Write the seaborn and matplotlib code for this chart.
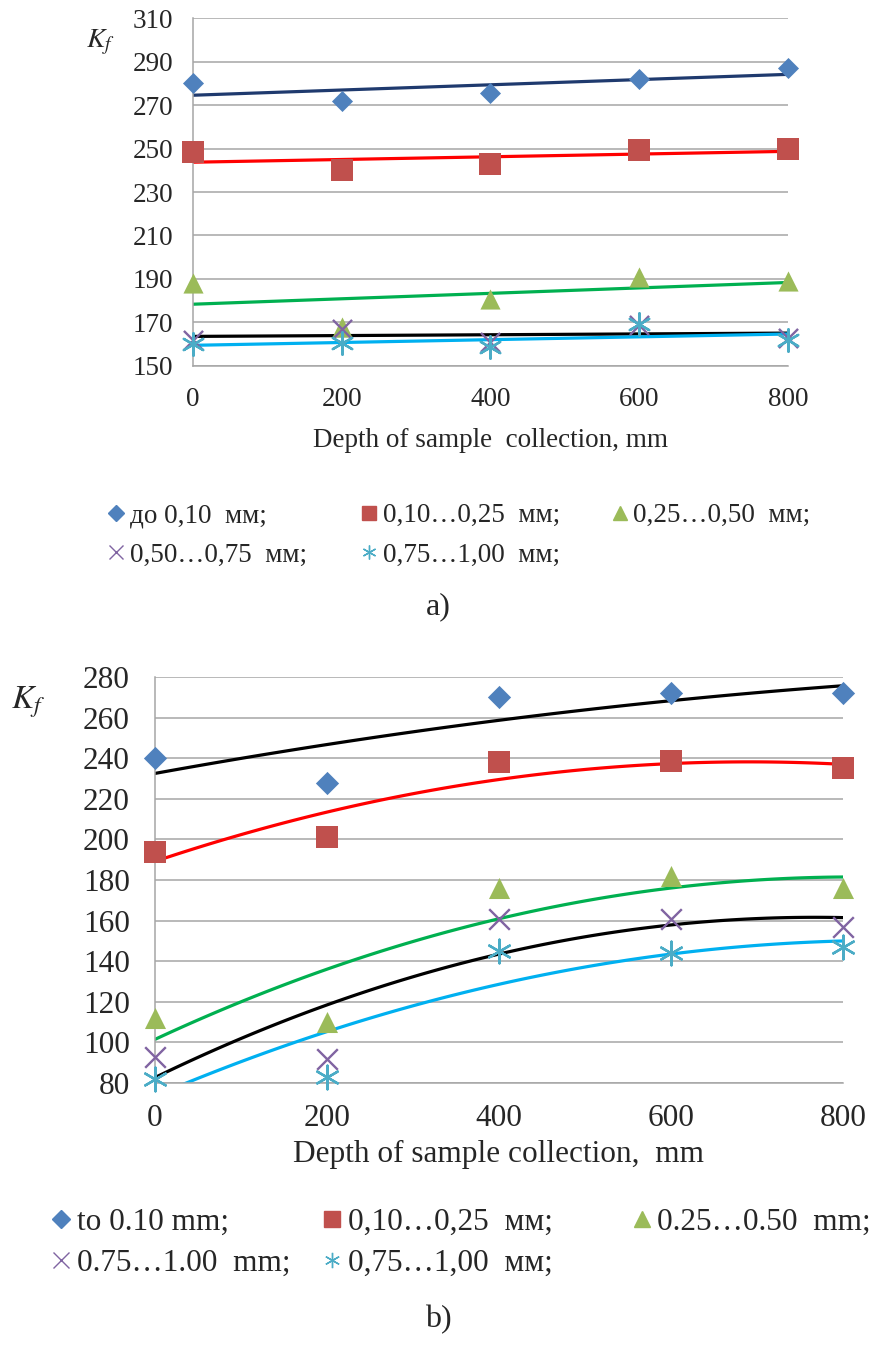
import numpy as np
import pandas as pd
import matplotlib
matplotlib.use("Agg")
import matplotlib.pyplot as plt
from matplotlib.lines import Line2D
import seaborn as sns

# data
depth = [0, 200, 400, 600, 800]

# panel a)
a_d010 = [280, 272, 275.5, 282, 287]
a_d025 = [248.5, 240, 243, 249.5, 250]
a_d050 = [188, 168, 181, 191, 189]
a_d075 = [162, 167, 161, 168.8, 163]
a_d100 = [160, 160.5, 158.5, 169.5, 162]
a_labels = ["до 0,10  мм;", "0,10…0,25  мм;", "0,25…0,50  мм;",
            "0,50…0,75  мм;", "0,75…1,00  мм;"]

# panel b)
b_d010 = [240, 228, 270, 272, 272]
b_d025 = [194, 201, 238, 238.5, 235]
b_d050 = [112, 110, 176, 182, 176]
b_d075 = [93, 92, 161, 161, 157]
b_d100 = [82, 83, 145, 144, 147]
b_labels = ["to 0.10 mm;", "0,10…0,25  мм;", "0.25…0.50  mm;",
            "0.75…1.00  mm;", "0,75…1,00  мм;"]

a_ticks = list(range(150, 311, 20))
b_ticks = list(range(80, 281, 20))
x_ticks = [0, 200, 400, 600, 800]

sns.set_style("white")
plt.rcParams['font.family'] = ['Liberation Serif', 'DejaVu Serif']
plt.rcParams['mathtext.fontset'] = 'stix'

marker_colors = ['#4F81BD', '#C0504D', '#9BBB59', '#8064A2', '#4BACC6']
markers = ['D', 's', '^', 'x', (6, 2, 0)]
grid_c = '#A6A6A6'


def draw_panel(ax, series, line_colors, order, ticks, fs, ticklen, sizes):
    '''scatter points plus excel style trendline for each fraction'''
    for i, vals in enumerate(series):
        sns.regplot(x=depth, y=vals, order=order, ci=None, scatter=False,
                    line_kws=dict(color=line_colors[i], lw=2.3), ax=ax)
        lw = 1.7 if i >= 3 else 0
        sns.scatterplot(x=depth, y=vals, marker=markers[i], s=sizes[i],
                        color=marker_colors[i], edgecolor=marker_colors[i] if i < 3 else None,
                        linewidth=lw, clip_on=False, zorder=5, ax=ax)
    ax.set_xlim(0, 800)
    ax.set_ylim(ticks[0], ticks[-1])
    ax.set_yticks(ticks)
    ax.set_xticks(x_ticks)
    ax.yaxis.grid(True, color=grid_c, lw=1.1)
    ax.set_axisbelow(True)
    for s in ['top', 'right']:
        ax.spines[s].set_visible(False)
    for s in ['left', 'bottom']:
        ax.spines[s].set_color(grid_c)
        ax.spines[s].set_linewidth(1.1)
    ax.tick_params(axis='y', length=ticklen, color=grid_c, width=1.1, pad=8, labelsize=fs)
    ax.tick_params(axis='x', length=5, color=grid_c, width=1.1, pad=10, labelsize=fs)


def add_legend(fig, labels, xs, ytop, fs, msize, lsp):
    hs = []
    for i in range(5):
        hs.append(Line2D([], [], ls='none', marker=markers[i], color=marker_colors[i],
                         markersize=msize[i], markeredgewidth=1.0))
    cols = [[0, 3], [1, 4], [2]]
    for x, c in zip(xs, cols):
        fig.legend(handles=[hs[k] for k in c], labels=[labels[k] for k in c],
                   loc='upper left', bbox_to_anchor=(x, ytop), frameon=False,
                   fontsize=fs, handlelength=0.7, handletextpad=0.15,
                   borderpad=0, borderaxespad=0, labelspacing=lsp)


fig = plt.figure(figsize=(8.77, 13.46), dpi=100)

ax1 = fig.add_axes([0.220, 0.7281, 0.6785, 0.2585])
draw_panel(ax1, [a_d010, a_d025, a_d050, a_d075, a_d100],
           ['#1F3A6E', '#FF0000', '#00B050', '#000000', '#00B0F0'], 1, a_ticks, 19.5, 6,
           [115, 230, 210, 190, 260])
ax1.set_xlabel("Depth of sample  collection, mm", fontsize=19.5, labelpad=12)
fig.text(100 / 877, 1 - 42 / 1346, r"$K_f$", fontsize=20, ha='center', va='center')
add_legend(fig, a_labels, [0.122, 0.410, 0.696], 1 - 503 / 1346, 19.5,
           [8, 10, 10, 10, 10], 0.55)
fig.text(0.4994, 1 - 607 / 1346, "a)", fontsize=23, ha='center', va='center')

ax2 = fig.add_axes([0.1767, 0.1954, 0.7845, 0.3016])
draw_panel(ax2, [b_d010, b_d025, b_d050, b_d075, b_d100],
           ['#000000', '#FF0000', '#00B050', '#000000', '#00B0F0'], 2, b_ticks, 22.5, 10,
           [140, 250, 230, 220, 290])
ax2.set_xlabel("Depth of sample collection,  mm", fontsize=22.5, labelpad=5)
fig.text(28 / 877, 1 - 702 / 1346, r"$K_f$", fontsize=24, ha='center', va='center')
add_legend(fig, b_labels, [0.057, 0.366, 0.719], 1 - 1208 / 1346, 22.5,
           [9, 11, 11, 11, 11], 0.38)
fig.text(0.4994, 1 - 1320 / 1346, "b)", fontsize=23, ha='center', va='center')

fig.savefig("out.png", dpi=100)
